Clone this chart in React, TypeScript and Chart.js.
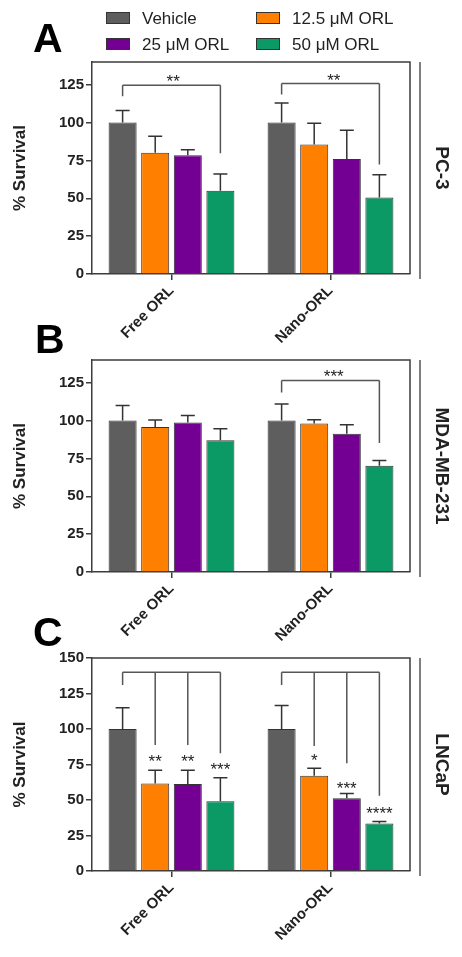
import React, { useEffect, useRef } from 'react';
import { Chart, registerables } from 'chart.js';

Chart.register(...registerables);

// ---------- data ----------
const categories = ['Free ORL', 'Nano-ORL'];
const seriesLabels = ['Vehicle', '12.5 \u03bcM ORL', '25 \u03bcM ORL', '50 \u03bcM ORL'];
const seriesColors = ['#5e5e5e', '#ff8000', '#730092', '#0b9a66'];

const yTicksAB = [0, 25, 50, 75, 100, 125];
const yTicksC = [0, 25, 50, 75, 100, 125, 150];

// Panel A: PC-3
const pc3Vehicle = [100, 100];
const pc3Orl125 = [80, 85.5];
const pc3Orl25 = [78.5, 76];
const pc3Orl50 = [55, 50.5];
const pc3VehicleErr = [8, 13];
const pc3Orl125Err = [11, 14];
const pc3Orl25Err = [3.5, 19];
const pc3Orl50Err = [11, 15];

// Panel B: MDA-MB-231
const mdaVehicle = [100, 100];
const mdaOrl125 = [95.8, 98];
const mdaOrl25 = [98.8, 91.3];
const mdaOrl50 = [87, 70.2];
const mdaVehicleErr = [10, 11];
const mdaOrl125Err = [4.5, 2.5];
const mdaOrl25Err = [4.6, 6];
const mdaOrl50Err = [7.6, 3.5];

// Panel C: LNCaP
const lncapVehicle = [100, 100];
const lncapOrl125 = [61.7, 67];
const lncapOrl25 = [61.2, 51.3];
const lncapOrl50 = [49.2, 33.5];
const lncapVehicleErr = [15, 16.5];
const lncapOrl125Err = [9.2, 5.3];
const lncapOrl25Err = [9.7, 3.3];
const lncapOrl50Err = [16.5, 1.4];

// significance brackets: legs are [seriesIndex, lower end value]
type Bracket = { cat: number; top: number; legs: [number, number][] };
type Star = { cat: number; pos: number; y: number; text: string };

const pc3Brackets: Bracket[] = [
  { cat: 0, top: 124.7, legs: [[0, 117.4], [3, 79.8]] },
  { cat: 1, top: 125.8, legs: [[0, 118.5], [3, 72.3]] },
];
const pc3Stars: Star[] = [
  { cat: 0, pos: 1.55, y: 129.5, text: '**' },
  { cat: 1, pos: 1.6, y: 130.4, text: '**' },
];
const mdaBrackets: Bracket[] = [
  { cat: 1, top: 126.4, legs: [[0, 118.6], [3, 85.2]] },
];
const mdaStars: Star[] = [{ cat: 1, pos: 1.6, y: 132, text: '***' }];
const lncapBrackets: Bracket[] = [
  { cat: 0, top: 140, legs: [[0, 131], [1, 88.8], [2, 88.8], [3, 82.9]] },
  { cat: 1, top: 140, legs: [[0, 131], [1, 88], [2, 75.8], [3, 53]] },
];
const lncapStars: Star[] = [
  { cat: 0, pos: 1, y: 79.8, text: '**' },
  { cat: 0, pos: 2, y: 79.8, text: '**' },
  { cat: 0, pos: 3, y: 74.6, text: '***' },
  { cat: 1, pos: 1, y: 80.5, text: '*' },
  { cat: 1, pos: 2, y: 61.2, text: '***' },
  { cat: 1, pos: 3, y: 43.4, text: '****' },
];

// ---------- panel configs ----------
const W = 462;
const H = 957;
const FONT = "'Liberation Sans', Arial, Helvetica, sans-serif";
const INK = '#222222';
const LINE = '#3c3c3c';

type PanelCfg = {
  letter: string;
  cell: string;
  values: number[][];
  errs: number[][];
  yMax: number;
  yTicks: number[];
  brackets: Bracket[];
  stars: Star[];
  area: { top: number; bottom: number; left: number; right: number };
  letterPos: { x: number; y: number };
  legend: boolean;
};

const panels: PanelCfg[] = [
  {
    letter: 'A',
    cell: 'PC-3',
    values: [pc3Vehicle, pc3Orl125, pc3Orl25, pc3Orl50],
    errs: [pc3VehicleErr, pc3Orl125Err, pc3Orl25Err, pc3Orl50Err],
    yMax: 140,
    yTicks: yTicksAB,
    brackets: pc3Brackets,
    stars: pc3Stars,
    area: { top: 62, bottom: 274, left: 92, right: 410 },
    letterPos: { x: 33, y: 52 },
    legend: true,
  },
  {
    letter: 'B',
    cell: 'MDA-MB-231',
    values: [mdaVehicle, mdaOrl125, mdaOrl25, mdaOrl50],
    errs: [mdaVehicleErr, mdaOrl125Err, mdaOrl25Err, mdaOrl50Err],
    yMax: 140,
    yTicks: yTicksAB,
    brackets: mdaBrackets,
    stars: mdaStars,
    area: { top: 360, bottom: 572, left: 92, right: 410 },
    letterPos: { x: 35, y: 353 },
    legend: false,
  },
  {
    letter: 'C',
    cell: 'LNCaP',
    values: [lncapVehicle, lncapOrl125, lncapOrl25, lncapOrl50],
    errs: [lncapVehicleErr, lncapOrl125Err, lncapOrl25Err, lncapOrl50Err],
    yMax: 150,
    yTicks: yTicksC,
    brackets: lncapBrackets,
    stars: lncapStars,
    area: { top: 658, bottom: 871, left: 92, right: 410 },
    letterPos: { x: 33, y: 646 },
    legend: false,
  },
];

function barX(chart: any, ds: number, cat: number): number {
  return chart.getDatasetMeta(ds).data[cat].x;
}

function makePlugin(cfg: PanelCfg) {
  return {
    id: 'decor' + cfg.letter,
    afterDatasetsDraw(chart: any) {
      const ctx = chart.ctx;
      const ys = chart.scales.y;
      ctx.save();
      // box top/right
      const a = chart.chartArea;
      ctx.strokeStyle = LINE;
      ctx.lineWidth = 1.5;
      ctx.beginPath();
      ctx.moveTo(a.left, a.top);
      ctx.lineTo(a.right, a.top);
      ctx.lineTo(a.right, a.bottom);
      ctx.stroke();

      // error bars
      ctx.strokeStyle = '#333';
      ctx.lineWidth = 1.5;
      cfg.values.forEach((vals, di) => {
        const meta = chart.getDatasetMeta(di);
        meta.data.forEach((el: any, ci: number) => {
          const top = ys.getPixelForValue(vals[ci] + cfg.errs[di][ci]);
          ctx.beginPath();
          ctx.moveTo(el.x, el.y);
          ctx.lineTo(el.x, top);
          ctx.moveTo(el.x - 7, top);
          ctx.lineTo(el.x + 7, top);
          ctx.stroke();
        });
      });

      // brackets
      ctx.strokeStyle = '#555';
      ctx.lineWidth = 1.5;
      cfg.brackets.forEach((b) => {
        const yTop = ys.getPixelForValue(b.top);
        const xs = b.legs.map(([ds]) => barX(chart, ds, b.cat));
        ctx.beginPath();
        ctx.moveTo(Math.min(...xs), yTop);
        ctx.lineTo(Math.max(...xs), yTop);
        b.legs.forEach(([ds, end], i) => {
          ctx.moveTo(xs[i], yTop);
          ctx.lineTo(xs[i], ys.getPixelForValue(end));
        });
        ctx.stroke();
      });

      // stars
      ctx.fillStyle = INK;
      ctx.font = `17px ${FONT}`;
      ctx.textAlign = 'center';
      ctx.textBaseline = 'alphabetic';
      cfg.stars.forEach((s) => {
        const i0 = Math.floor(s.pos);
        const i1 = Math.min(3, i0 + 1);
        const f = s.pos - i0;
        const x = barX(chart, i0, s.cat) * (1 - f) + barX(chart, i1, s.cat) * f;
        const y = ys.getPixelForValue(s.y) + 9.5;
        ctx.fillText(s.text, x, y);
      });
      ctx.restore();
    },
    afterDraw(chart: any) {
      const ctx = chart.ctx;
      const a = chart.chartArea;
      ctx.save();
      // panel letter
      ctx.fillStyle = '#000';
      ctx.font = `bold 41px ${FONT}`;
      ctx.textAlign = 'left';
      ctx.textBaseline = 'alphabetic';
      ctx.fillText(cfg.letter, cfg.letterPos.x, cfg.letterPos.y);

      // right cell-line label
      ctx.strokeStyle = '#555';
      ctx.lineWidth = 1.5;
      ctx.beginPath();
      ctx.moveTo(a.right + 10, a.top);
      ctx.lineTo(a.right + 10, a.bottom + 5);
      ctx.stroke();
      ctx.translate(a.right + 31, (a.top + a.bottom) / 2);
      ctx.rotate(Math.PI / 2);
      ctx.fillStyle = INK;
      ctx.font = `bold 19px ${FONT}`;
      ctx.textAlign = 'center';
      ctx.textBaseline = 'middle';
      ctx.fillText(cfg.cell, 0, 0);
      ctx.restore();

      // legend
      if (cfg.legend) {
        ctx.save();
        const cols = [106, 256];
        const rows = [18, 44];
        chart.data.datasets.forEach((ds: any, i: number) => {
          const x = cols[i % 2];
          const y = rows[Math.floor(i / 2)];
          ctx.fillStyle = ds.backgroundColor;
          ctx.fillRect(x, y - 6, 24, 12);
          ctx.strokeStyle = '#333';
          ctx.lineWidth = 1;
          ctx.strokeRect(x + 0.5, y - 5.5, 23, 11);
          ctx.fillStyle = INK;
          ctx.font = `17px ${FONT}`;
          ctx.textAlign = 'left';
          ctx.textBaseline = 'middle';
          ctx.fillText(ds.label, x + 36, y + 1);
        });
        ctx.restore();
      }
    },
  };
}

function Panel({ cfg }: { cfg: PanelCfg }) {
  const ref = useRef<HTMLCanvasElement>(null);
  useEffect(() => {
    const a = cfg.area;
    const chart = new Chart(ref.current as HTMLCanvasElement, {
      type: 'bar',
      data: {
        labels: categories,
        datasets: cfg.values.map((vals, i) => ({
          label: seriesLabels[i],
          data: vals,
          backgroundColor: seriesColors[i],
          borderColor: '#333',
          borderWidth: 1,
          barPercentage: 0.86,
          categoryPercentage: 0.82,
        })),
      },
      options: {
        animation: false,
        responsive: false,
        events: [],
        layout: { padding: { left: 0, top: a.top, right: W - a.right, bottom: 0 } },
        plugins: { legend: { display: false }, tooltip: { enabled: false }, title: { display: false } },
        scales: {
          x: {
            grid: { display: true, drawOnChartArea: false, offset: false, tickLength: 6, color: LINE, lineWidth: 1.5 },
            border: { display: true, color: LINE, width: 1.5 },
            ticks: {
              color: INK,
              font: { family: FONT, size: 15, weight: 'bold' },
              maxRotation: 45,
              minRotation: 45,
              padding: 2,
            },
            afterFit: (s: any) => {
              s.height = H - a.bottom;
            },
          },
          y: {
            min: 0,
            max: cfg.yMax,
            grid: { display: true, drawOnChartArea: false, tickLength: 6, color: LINE, lineWidth: 1.5 },
            border: { display: true, color: LINE, width: 1.5 },
            ticks: {
              color: INK,
              font: { family: FONT, size: 15, weight: 'bold' },
              padding: 2,
              includeBounds: false,
            },
            afterBuildTicks: (s: any) => {
              s.ticks = cfg.yTicks.map((v) => ({ value: v }));
            },
            afterFit: (s: any) => {
              s.width = a.left;
            },
            title: {
              display: true,
              text: '% Survival',
              color: INK,
              font: { family: FONT, size: 17, weight: 'bold' },
              padding: { top: 10, bottom: 0 },
            },
          },
        },
      },
      plugins: [makePlugin(cfg)],
    } as any);
    return () => chart.destroy();
  }, []);
  return (
    <canvas
      ref={ref}
      width={W}
      height={H}
      style={{ position: 'absolute', left: 0, top: 0, width: W, height: H }}
    />
  );
}

export default function App() {
  return (
    <div style={{ position: 'absolute', left: 0, top: 0, width: W, height: H, background: '#fff' }}>
      {panels.map((p) => (
        <Panel key={p.letter} cfg={p} />
      ))}
    </div>
  );
}
